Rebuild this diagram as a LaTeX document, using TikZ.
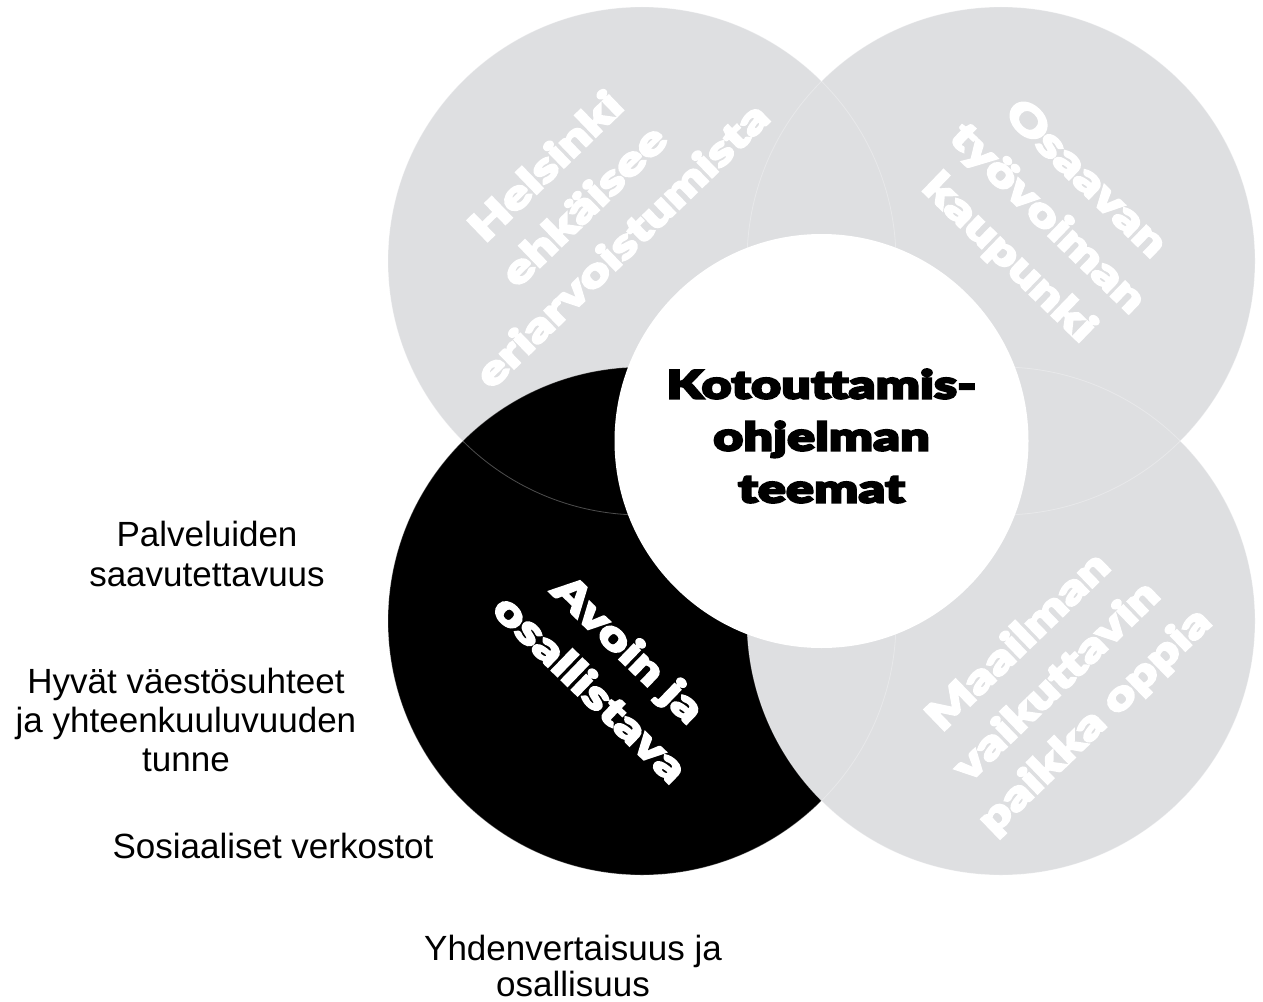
\documentclass[tikz,border=0pt]{standalone}
\usepackage{fontspec}
\setmainfont{Liberation Sans}
\IfFontExistsTF{Lato Black}
 {\newfontfamily\heavy{Lato Black}[FakeStretch=1.33,FakeBold=5]}
 {\newfontfamily\heavy{DejaVu Sans Bold}[FakeStretch=1.1,FakeBold=4]}
\definecolor{hgray}{RGB}{222,223,225}
\begin{document}
\begin{tikzpicture}[x=0.75pt,y=0.75pt,
  bigc/.style={circle, minimum size=381pt, inner sep=0pt, draw=none},
  ring/.style={draw=white, draw opacity=0.3, line width=0.6pt},
  theme/.style={text=white, font=\heavy\fontsize{30}{41.25}\selectfont, align=center, inner sep=0pt},
  ttl/.style={text=black, font=\heavy\fontsize{29.4}{39}\selectfont, align=center, inner sep=0pt},
  lab/.style={text=black, font=\fontsize{26.25}{29.6}\selectfont, align=center, inner sep=0pt}]
\useasboundingbox (0,0) rectangle (1263,-1002);
\node[bigc, fill=hgray] (tl) at (642,-261) {};
\node[bigc, fill=hgray] (tr) at (1001,-261) {};
\node[bigc, fill=black] (bl) at (642,-621) {};
\node[bigc, fill=hgray] (br) at (1001,-621) {};
\foreach \n in {tl,tr,bl,br} \draw[ring] (\n.center) circle[radius=190.5pt];
\node[circle, fill=white, minimum size=310.5pt, inner sep=0pt] (mid) at (821.5,-441) {};
\node[theme, rotate=44] (t1) at (583,-205) {Helsinki\\ehkäisee\\eriarvoistumista};
\node[theme, rotate=-44] (t2) at (1047,-219) {Osaavan\\työvoiman\\kaupunki};
\node[theme, rotate=-44] (t3) at (610,-668) {Avoin ja\\osallistava};
\node[theme, rotate=44] (t4) at (1057,-682) {Maailman\\vaikuttavin\\paikka oppia};
\node[ttl] (t0) at (821.5,-436) {Kotouttamis-\\ohjelman\\teemat};
\node[lab] (l1) at (207,-554) {Palveluiden\\saavutettavuus};
\node[lab] (l2) at (186,-720) {Hyvät väestösuhteet\\ja yhteenkuuluvuuden\\tunne};
\node[lab, anchor=base] (l3) at (273,-858) {Sosiaaliset verkostot};
\node[lab, font=\fontsize{26.25}{27}\selectfont] (l4) at (573,-966) {Yhdenvertaisuus ja\\osallisuus};
\end{tikzpicture}
\end{document}
